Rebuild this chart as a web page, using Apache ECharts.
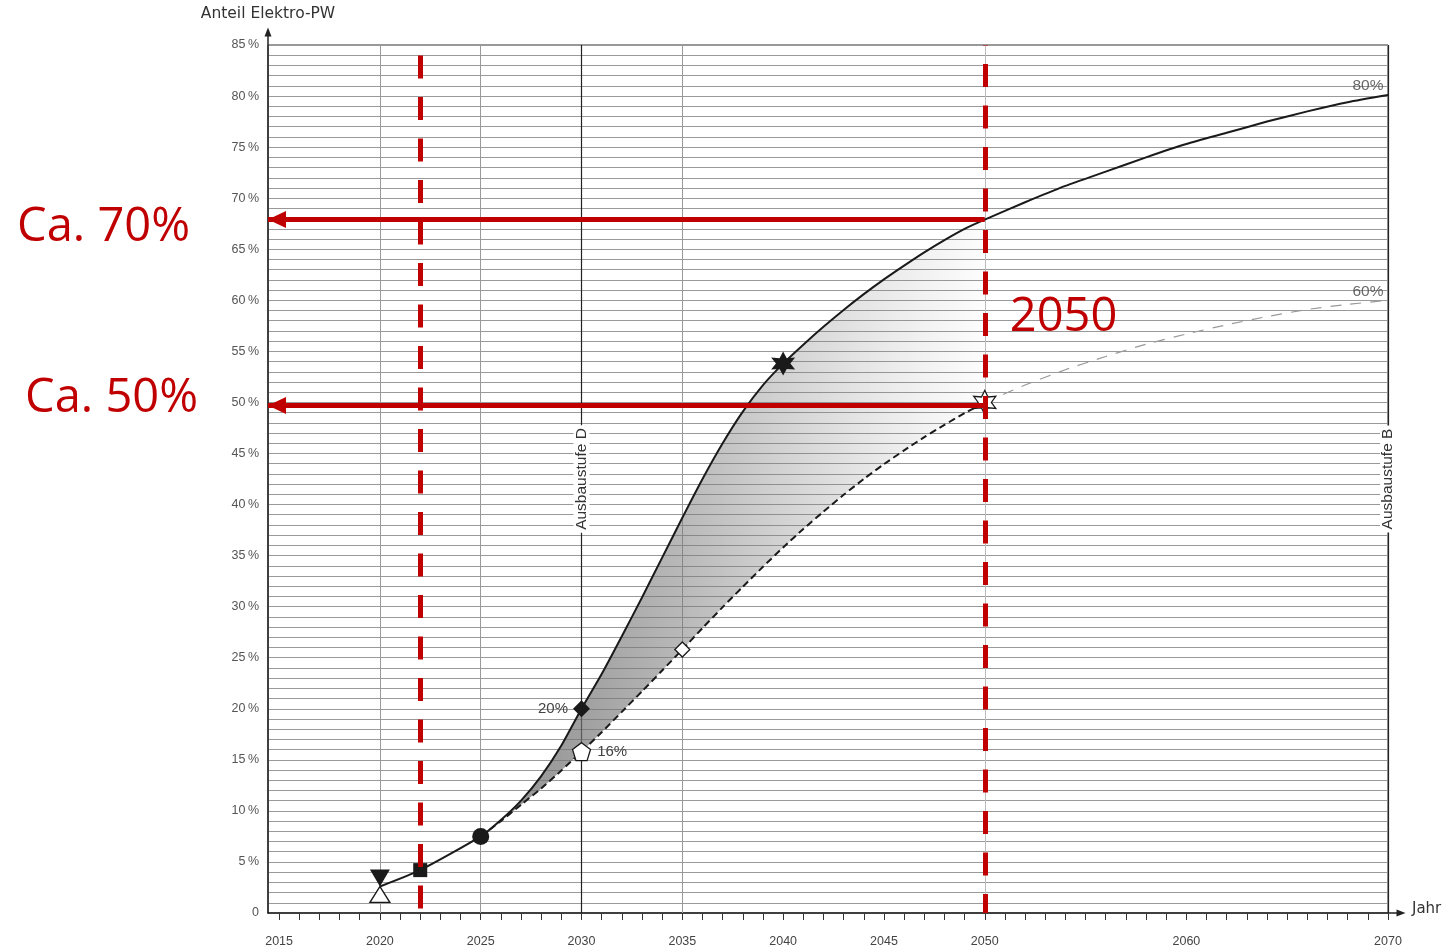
<!DOCTYPE html>
<html><head><meta charset="utf-8">
<script src="https://cdn.jsdelivr.net/npm/echarts@6/dist/echarts.min.js"></script>
<style>html,body{margin:0;padding:0;background:#fff}#c{width:1451px;height:950px}</style>
</head><body><div id="c"></div>
<script>
// ---- data ----
const earlyYears = [2020, 2022];
const earlyValues = [2.6, 4.2];
const bandYears = [2025,2026,2027,2028,2029,2030,2031,2032,2033,2034,2035,2036,2037,2038,2039,2040,2041,2042,2043,2044,2045,2046,2047,2048,2049,2050];
const upperBand = [7.5,9.1,11.0,13.4,16.4,20.0,23.4,27.1,30.9,34.8,38.7,42.5,46.0,49.1,51.7,53.8,55.65,57.4,59.05,60.6,62.05,63.4,64.7,65.9,67.0,67.9];
const lowerBand = [7.5,9.0,10.6,12.2,13.95,15.8,17.7,19.7,21.7,23.75,25.8,27.9,29.95,31.95,33.9,35.8,37.6,39.3,40.95,42.5,43.95,45.3,46.6,47.8,48.95,50.0];
const lateYears = [2052,2054,2056,2058,2060,2062,2064,2066,2068,2070];
const upperLate = [69.6,71.2,72.6,74.0,75.3,76.4,77.5,78.5,79.4,80.1];
const lowerLate = [51.7,53.2,54.5,55.7,56.7,57.6,58.4,59.1,59.6,60.0];

const xLabelYears = [2015,2020,2025,2030,2035,2040,2045,2050,2060,2070];
const yLabelValues = [0,5,10,15,20,25,30,35,40,45,50,55,60,65,70,75,80,85];
const gridYears = [2020, 2025, 2035, 2050];
const stageYears = [2030, 2070];
const stageNames = ['Ausbaustufe D', 'Ausbaustufe B'];

const markHourglass = [2020, 2.6];
const markSquare = [2022, 4.2];
const markCircle = [2025, 7.5];
const markDiamondBlack = [2030, 20.0];
const markPentagon = [2030, 15.8];
const markDiamondWhite = [2035, 25.8];
const markStarBlack = [2040, 53.8];
const markStarWhite = [2050, 50.0];
const pointTexts = ['20%', '16%'];
const endTexts = ['80%', '60%'];

const redYears = [2022, 2050];
const arrowFrom = 2050;
const arrowLevels = [67.9, 49.7];
const arrowTexts = [' \nCa. 70%', 'Ca. 50%\n '];
const yearNote = [2050, 58.3];
const yearNoteText = '2050';

// ---- helpers ----
const X_MIN = 2014.45, X_MAX = 2070, Y_MAX = 85;
const xTicks = [];
for (let y = 2015; y <= 2070; y++) xTicks.push(y);
const zip = (xs, ys) => xs.map((x, i) => [x, ys[i]]);
const RED = '#C00000';
const INK = '#1a1a1a';
const pentagon = 'path://M0,-10 L9.51,-3.09 L5.88,8.09 L-5.88,8.09 L-9.51,-3.09 Z';
const star6 = 'path://M0,-10 L2.6,-4.5 L8.66,-5 L5.2,0 L8.66,5 L2.6,4.5 L0,10 L-2.6,4.5 L-8.66,5 L-5.2,0 L-8.66,-5 L-2.6,-4.5 Z';
const txt = { fontFamily: 'Liberation Sans', color: '#444' };

const upperData = zip(earlyYears, earlyValues).concat(zip(bandYears, upperBand), zip(lateYears, upperLate));
const lowerData = zip(bandYears, lowerBand);
const lowerExtData = [[bandYears[bandYears.length-1], lowerBand[lowerBand.length-1]]].concat(zip(lateYears, lowerLate));

const chart = echarts.init(document.getElementById('c'), null, { renderer: 'canvas' });
const scatter = (data, extra) => {
  const s = Object.assign({ type: 'scatter', xAxisIndex: 0, yAxisIndex: 0, data: [data], z: 6, silent: true }, extra);
  s.itemStyle = Object.assign({ color: INK, opacity: 1 }, extra.itemStyle || {});
  return s;
};

chart.setOption({
  animation: false,
  grid: [
    { left: 268, right: 63, top: 45, bottom: 37, show: true, borderColor: '#333', borderWidth: 1, outerBoundsMode: 'none' },
    { left: 268, right: 50, top: 32, bottom: 37, outerBoundsMode: 'none' }
  ],
  xAxis: [
    { type: 'value', gridIndex: 0, min: X_MIN, max: X_MAX,
      axisLine: { show: false }, splitLine: { show: false },
      axisTick: { show: true, customValues: xTicks, length: 7, lineStyle: { color: '#333', width: 1 } },
      axisLabel: { customValues: xLabelYears, formatter: v => String(v), margin: 22, fontSize: 12.5, ...txt } },
    { type: 'value', gridIndex: 1, min: 0, max: 1,
      axisLine: { show: true, onZero: false, symbol: ['none', 'triangle'], symbolSize: [7, 9], lineStyle: { color: '#222', width: 1.5 } },
      axisTick: { show: false }, axisLabel: { show: false }, splitLine: { show: false },
      name: 'Jahr\n ', nameLocation: 'end', nameGap: 11,
      nameTextStyle: { fontFamily: 'DejaVu Sans', fontSize: 15, lineHeight: 7, color: '#333' } }
  ],
  yAxis: [
    { type: 'value', gridIndex: 0, min: 0, max: Y_MAX, interval: 1,
      axisLine: { show: false }, axisTick: { show: false },
      splitLine: { show: true, lineStyle: { color: '#999', width: 1 } },
      axisLabel: { customValues: yLabelValues, formatter: v => v === 0 ? '0' : v + '\u2009%', margin: 9, fontSize: 12.5, fontFamily: 'Liberation Sans', color: '#555' } },
    { type: 'value', gridIndex: 1, min: 0, max: 1,
      axisLine: { show: true, onZero: false, symbol: ['none', 'triangle'], symbolSize: [7, 9], lineStyle: { color: '#222', width: 1.5 } },
      axisTick: { show: false }, axisLabel: { show: false }, splitLine: { show: false },
      name: 'Anteil Elektro-PW', nameLocation: 'end', nameGap: 10,
      nameTextStyle: { fontFamily: 'DejaVu Sans', fontSize: 15.5, color: '#333' } }
  ],
  series: [
    // vertical reference lines
    { type: 'line', xAxisIndex: 0, yAxisIndex: 0, data: [], silent: true,
      markLine: { silent: true, symbol: 'none', z: 1, animation: false,
        label: { show: false },
        lineStyle: { color: '#999', width: 1, type: 'solid' },
        data: gridYears.map(y => ({ xAxis: y, lineStyle: { color: y === 2050 ? '#bbb' : '#999' } }))
          .concat(stageYears.map((y, i) => ({ xAxis: y,
            lineStyle: { color: '#222', width: 1.2 },
            label: { show: true, position: 'insideMiddle', formatter: stageNames[i], fontFamily: 'Liberation Sans', fontSize: 15.5, color: '#333', backgroundColor: '#fff', padding: [0, 3] } })))
      } },
    // shaded band between the two curves
    { type: 'custom', xAxisIndex: 0, yAxisIndex: 0, z: 2, silent: true,
      data: bandYears.map((y, i) => [y, lowerBand[i], upperBand[i]]),
      encode: { x: 0, y: [1, 2] },
      renderItem: function (params, api) {
        if (params.dataIndex !== 0) return null;
        const top = bandYears.map((y, i) => api.coord([y, upperBand[i]]));
        const bot = bandYears.map((y, i) => api.coord([y, lowerBand[i]])).reverse();
        return { type: 'polygon', shape: { points: top.concat(bot) },
          style: { fill: { type: 'linear', x: 0, y: 0, x2: 1, y2: 0, colorStops: [
            { offset: 0, color: 'rgba(110,110,110,0.75)' },
            { offset: 0.2, color: 'rgba(115,115,115,0.68)' },
            { offset: 0.4, color: 'rgba(120,120,120,0.52)' },
            { offset: 0.6, color: 'rgba(125,125,125,0.34)' },
            { offset: 0.8, color: 'rgba(130,130,130,0.17)' },
            { offset: 1, color: 'rgba(140,140,140,0.02)' } ] } } };
      } },
    // curves
    { type: 'line', xAxisIndex: 0, yAxisIndex: 0, z: 4, data: upperData, showSymbol: false, symbol: 'none', smooth: 0.2,
      lineStyle: { color: INK, width: 2 } },
    { type: 'line', xAxisIndex: 0, yAxisIndex: 0, z: 4, data: lowerData, showSymbol: false, symbol: 'none', smooth: 0.2,
      lineStyle: { color: INK, width: 2, type: [7, 4] } },
    { type: 'line', xAxisIndex: 0, yAxisIndex: 0, z: 3, data: lowerExtData, showSymbol: false, symbol: 'none', smooth: 0.2,
      lineStyle: { color: '#999', width: 1.2, type: [11, 9] } },
    // markers
    scatter(markHourglass, { symbol: 'triangle', symbolRotate: 180, symbolSize: [20, 17], symbolOffset: [0, '-50%'] }),
    scatter(markHourglass, { symbol: 'triangle', symbolSize: [20, 16], symbolOffset: [0, '50%'], itemStyle: { color: '#fff', borderColor: INK, borderWidth: 1.3 } }),
    scatter(markSquare, { symbol: 'rect', symbolSize: 14 }),
    scatter(markCircle, { symbol: 'circle', symbolSize: 17 }),
    scatter(markDiamondBlack, { symbol: 'diamond', symbolSize: 17,
      label: { show: true, position: 'left', distance: 5, formatter: pointTexts[0], fontSize: 15, ...txt } }),
    scatter(markPentagon, { symbol: pentagon, symbolSize: 18, itemStyle: { color: '#fff', borderColor: INK, borderWidth: 1.3 },
      label: { show: true, position: 'right', distance: 6, formatter: pointTexts[1], fontSize: 15, ...txt } }),
    scatter(markDiamondWhite, { symbol: 'diamond', symbolSize: 15, itemStyle: { color: '#fff', borderColor: INK, borderWidth: 1.3 } }),
    scatter(markStarBlack, { symbol: star6, symbolSize: [24, 24] }),
    scatter(markStarWhite, { symbol: star6, symbolSize: [22, 24], itemStyle: { color: '#fff', borderColor: INK, borderWidth: 1.3 } }),
    // end labels
    { type: 'scatter', xAxisIndex: 0, yAxisIndex: 0, z: 6, silent: true, symbolSize: 0.1,
      itemStyle: { color: 'transparent' },
      data: [[lateYears[lateYears.length-1], upperLate[upperLate.length-1]], [lateYears[lateYears.length-1], lowerLate[lowerLate.length-1]]],
      label: { show: true, position: 'top', distance: 1, offset: [-20, 0], fontSize: 15.5, ...txt,
        formatter: p => endTexts[p.dataIndex] } },
    // red annotations: dashed verticals
    { type: 'line', xAxisIndex: 0, yAxisIndex: 0, data: [], silent: true, z: 10,
      markLine: { silent: true, symbol: 'none', z: 10, animation: false, label: { show: false },
        lineStyle: { color: RED, width: 5, type: [23, 18.5] },
        data: redYears.map((y, i) => ({ xAxis: y, lineStyle: { dashOffset: i === 0 ? 37 : 4 } })) },
      markPoint: { silent: true, z: 10, animation: false, symbol: 'circle', symbolSize: 0.1,
        itemStyle: { color: 'transparent' },
        data: [{ coord: yearNote,
          label: { show: true, position: 'right', distance: 25, formatter: yearNoteText, fontFamily: 'Open Sans', fontSize: 47, color: RED } }] } },
    // red arrows
    { type: 'line', xAxisIndex: 0, yAxisIndex: 0, data: [], silent: true, z: 10,
      markLine: { silent: true, z: 10, animation: false, symbol: ['none', 'triangle'], symbolSize: [17, 18], symbolOffset: [[0, 0], [0, 9]],
        lineStyle: { color: RED, width: 5, type: 'solid' },
        label: { show: false },
        data: arrowLevels.map((lv, i) => [
          { coord: [arrowFrom, lv],
            label: { show: true, position: 'end', distance: i === 0 ? 78 : 70, formatter: arrowTexts[i],
              fontFamily: 'Open Sans', fontSize: 47, lineHeight: i === 0 ? 15 : 14, color: RED } },
          { coord: [X_MIN, lv] }
        ]) } }
  ]
});
</script></body></html>
